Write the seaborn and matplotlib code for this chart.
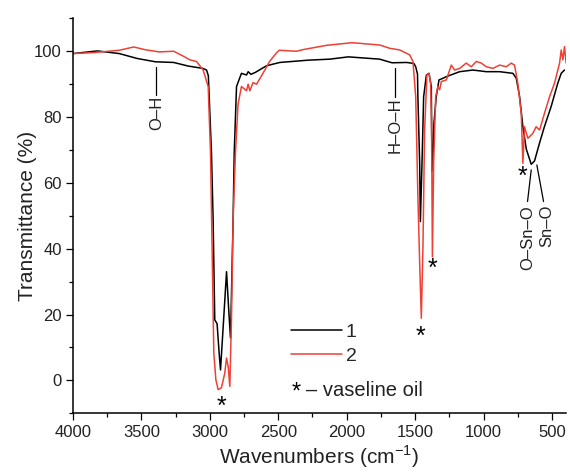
import numpy as np
import pandas as pd
import seaborn as sns
import matplotlib.pyplot as plt
from matplotlib.lines import Line2D
from matplotlib.ticker import MultipleLocator

# ---- data (wavenumber cm-1, transmittance %) ----
wn_1 = [4000, 3822, 3662, 3530, 3397, 3264, 3157, 3051, 3024, 3011, 2988, 2976, 2964,
        2947, 2932, 2922, 2900, 2878, 2860, 2849, 2830, 2822, 2805, 2769, 2732, 2720,
        2700, 2667, 2586, 2489, 2280, 2124, 1988, 1759, 1669, 1562, 1509, 1496, 1483,
        1480, 1467, 1462, 1450, 1438, 1418, 1399, 1382, 1377, 1370, 1363, 1346, 1326,
        1297, 1272, 1175, 1078, 980, 883, 786, 761, 737, 713, 688, 652, 628, 591, 555,
        506, 458, 433, 409]
tr_1 = [99.2, 100.0, 99.2, 97.7, 96.7, 96.5, 95.4, 94.7, 94.2, 92.5, 69.0, 48.7, 18.4,
        17.2, 8.3, 3.2, 18.0, 33.0, 20.0, 12.9, 48.7, 69.0, 89.2, 93.2, 92.7, 93.7,
        92.9, 93.5, 95.5, 96.5, 97.2, 97.5, 98.2, 97.5, 96.4, 96.5, 96.2, 95.2, 93.0,
        86.1, 65.9, 48.2, 65.9, 86.1, 92.7, 93.2, 89.2, 63.5, 67.0, 78.0, 86.1, 91.2,
        91.7, 92.2, 93.7, 94.2, 93.7, 93.7, 93.2, 91.7, 86.1, 77.0, 70.2, 65.6, 66.6,
        72.1, 77.1, 83.2, 90.2, 93.2, 94.2]

wn_2 = [4000, 3848, 3662, 3556, 3476, 3370, 3264, 3184, 3146, 3097, 3049, 3012, 2995,
        2983, 2971, 2956, 2939, 2915, 2891, 2878, 2866, 2854, 2842, 2830, 2813, 2794,
        2769, 2732, 2720, 2708, 2684, 2659, 2623, 2562, 2513, 2493, 2367, 2319, 2147,
        1961, 1759, 1686, 1613, 1540, 1516, 1496, 1480, 1467, 1455, 1443, 1431, 1414,
        1399, 1387, 1380, 1374, 1365, 1350, 1334, 1321, 1309, 1272, 1236, 1212, 1175,
        1127, 1090, 1053, 1017, 980, 932, 883, 834, 798, 774, 750, 725, 713, 701, 688,
        676, 640, 616, 591, 555, 518, 482, 445, 433, 421, 409, 397]
tr_2 = [99.2, 99.5, 100.2, 101.2, 100.4, 99.7, 99.9, 98.2, 97.3, 96.8, 94.2, 89.2, 69.0,
        38.7, 8.3, 0.2, -2.8, -2.2, 2.2, 6.8, 4.2, -1.8, 18.4, 48.7, 69.0, 83.8,
        89.2, 87.9, 89.9, 87.9, 90.4, 89.9, 92.4, 96.9, 99.4, 100.2, 99.9, 100.4, 101.7,
        102.5, 101.8, 100.8, 100.3, 98.8, 96.8, 86.1, 55.8, 35.6, 18.9, 40.6, 76.0, 92.7,
        93.2, 90.2, 76.0, 37.5, 65.9, 86.1, 89.2, 88.2, 90.7, 91.2, 95.7, 94.2, 94.7,
        96.3, 95.2, 96.8, 96.3, 95.2, 94.7, 95.7, 95.2, 96.3, 95.7, 90.2, 81.1, 65.9, 77.0, 75.0,
        73.5, 75.0, 77.0, 76.0, 81.1, 86.1, 90.2, 96.3, 100.3, 97.3, 101.3, 96.3]

series_labels = ["1", "2"]
series_colors = ["#000000", "#ee4035"]

xticks = [4000, 3500, 3000, 2500, 2000, 1500, 1000, 500]
yticks = [0, 20, 40, 60, 80, 100]

# band labels: (text, x, y_top_of_text, line x0, y0, x1, y1)
bands = [
    ("O\u2013H", 3390, 86.5, 3390, 95.2, 3390, 86.7),
    ("H\u2013O\u2013H", 1650, 85.9, 1650, 94.8, 1650, 86.1),
    ("O\u2013Sn\u2013O", 680, 53.3, 652, 63.9, 679, 54.3),
    ("Sn\u2013O", 542, 53.3, 611, 65.4, 562, 54.3),
]
stars = [(2912, -6.0), (1460, 15.4), (1372, 36.0), (717, 63.9)]

# ---- build data frame ----
df = pd.concat([
    pd.DataFrame({"wn": wn_1, "T": tr_1, "s": series_labels[0]}),
    pd.DataFrame({"wn": wn_2, "T": tr_2, "s": series_labels[1]}),
])

sns.set_style("ticks")
plt.rcParams["font.family"] = ["Liberation Sans", "DejaVu Sans"]

fig = plt.figure(figsize=(5.70, 4.73), dpi=100)
ax = fig.add_axes([0.128, 0.126, 0.8645, 0.836])

sns.lineplot(data=df, x="wn", y="T", hue="s", palette=series_colors,
             hue_order=series_labels, estimator=None, sort=False,
             linewidth=1.1, ax=ax, legend=False)

ax.set_xlim(4000, 400)
ax.set_ylim(-10, 110)
ax.set_xticks(xticks)
ax.set_yticks(yticks)
ax.xaxis.set_minor_locator(MultipleLocator(250))
ax.yaxis.set_minor_locator(MultipleLocator(10))
ax.tick_params(which="major", direction="out", length=5, width=0.9,
               labelsize=12, pad=3, color="black", labelcolor="#222222")
ax.tick_params(which="minor", direction="out", length=2.8, width=0.9, color="black")
for side in ["top", "right"]:
    ax.spines[side].set_visible(False)
for side in ["left", "bottom"]:
    ax.spines[side].set_linewidth(1.1)
    ax.spines[side].set_color("black")

ax.set_xlabel("Wavenumbers (cm$^{\\mathregular{-1}}$)", fontsize=15, labelpad=2.5,
              color="#222222")
ax.set_ylabel("Transmittance (%)", fontsize=15, labelpad=-2, color="#222222")

# legend
handles = [Line2D([], [], color=c, lw=1.1) for c in series_colors]
ax.legend(handles, series_labels, loc="upper left", bbox_to_anchor=(0.443, 0.228),
          frameon=False, fontsize=14, handlelength=2.6, handletextpad=0.2,
          labelspacing=0.35, borderpad=0, borderaxespad=0)
ax.text(0.454, 0.058, "*", transform=ax.transAxes, fontsize=17, ha="center",
        va="center_baseline", color="black")
ax.text(0.472, 0.058, "\u2013 vaseline oil", transform=ax.transAxes, fontsize=14.5,
        ha="left", va="center", color="#222222")

# band annotations
for txt, x, ytop, lx0, ly0, lx1, ly1 in bands:
    ax.plot([lx0, lx1], [ly0, ly1], color="black", lw=0.9)
    ax.text(x, ytop, txt, rotation=90, ha="center", va="top", fontsize=12,
            color="#222222")

for sx, sy in stars:
    ax.annotate("*", (sx, sy), xytext=(0, -0.55 * 18), textcoords="offset points",
                ha="center", va="baseline", fontsize=18, color="black")

fig.savefig("out.png", dpi=100)
